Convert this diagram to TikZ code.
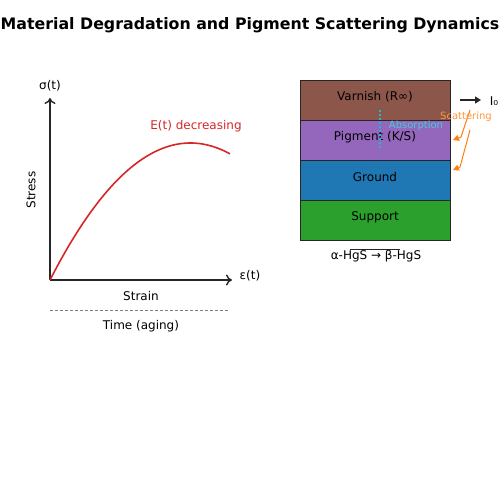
\documentclass[tikz,border=0pt]{standalone}
\usepackage{fontspec}
\setmainfont{DejaVu Sans}
\usetikzlibrary{arrows.meta}
\definecolor{tabbrown}{HTML}{8C564B}
\definecolor{tabpurple}{HTML}{9467BD}
\definecolor{tabblue}{HTML}{1F77B4}
\definecolor{tabgreen}{HTML}{2CA02C}
\definecolor{tabred}{HTML}{D62728}
\definecolor{taborange}{HTML}{FF7F0E}
\definecolor{tabcyan}{HTML}{17BECF}
\begin{document}
\begin{tikzpicture}[
        x=1pt, y=-1pt,
        label/.style={font=\fontsize{12}{14}\selectfont, inner sep=0pt},
        small/.style={font=\fontsize{10}{12}\selectfont, inner sep=0pt},
        layer/.style={draw=black!85, line width=0.9pt, minimum width=150pt, minimum height=40pt, anchor=north west, inner sep=0pt},
        axis/.style={-{To[length=6pt,width=11pt]}, line width=1.4pt, black!85},
        scat/.style={-{Triangle[length=6pt,width=6pt]}, taborange, line width=1pt}
    ]
        \useasboundingbox (0,0) rectangle (500,500);
        \fill[white] (0,0) rectangle (500,500);

        % Title
        \node[font=\fontsize{15.8}{19}\selectfont\bfseries, inner sep=0pt] (title) at (250,25) {Material Degradation and Pigment Scattering Dynamics};

        % Stress-strain axes
        \coordinate (origin) at (50,280);
        \coordinate (ytop) at (50,98);
        \coordinate (xend) at (232,280);
        \draw[axis] (origin) -- (ytop);
        \draw[axis] (origin) -- (xend);
        \node[label] (sigma) at (50,86) {σ(t)};
        \node[label] (eps) at (250,276) {ε(t)};
        \node[label, rotate=90] (stress) at (31,190) {Stress};
        \node[label] (strain) at (141,296) {Strain};

        % Aging time line
        \coordinate (tstart) at (50,310);
        \coordinate (tend) at (228,310);
        \draw[gray, line width=1pt, dash pattern=on 3pt off 2pt] (tstart) -- (tend);
        \node[label] (time) at (141,326) {Time (aging)};

        % Modulus curve
        \draw[tabred, line width=1.6pt] plot[domain=0:1, samples=60] ({50+180*\x}, {280-137*\x*(1.56-\x)/0.6084});
        \node[label, text=tabred] (modulus) at (196,126) {E(t) decreasing};

        % Paint layers
        \node[layer, fill=tabbrown] (varnish) at (300,80) {};
        \node[layer, fill=tabpurple] (pigment) at (300,120) {};
        \node[layer, fill=tabblue] (ground) at (300,160) {};
        \node[layer, fill=tabgreen] (support) at (300,200) {};
        \node[label] at (375,97) {Varnish (R∞)};
        \node[label] at (375,137) {Pigment (K/S)};
        \node[label] at (375,177) {Ground};
        \node[label] at (375,217) {Support};

        % Phase transition
        \node[label] (phase) at (376,256) {α-HgS → β-HgS};
        \draw[black!85, line width=0.8pt] (350,249) -- (400,249);

        % Incident light
        \coordinate (lin) at (460,100);
        \coordinate (lout) at (481,100);
        \draw[-{Triangle[length=6pt,width=7pt]}, line width=1.4pt, black!85] (lin) -- (lout);
        \node[label] (intensity) at (494,101) {I₀};

        % Absorption
        \coordinate (abstop) at (380,110);
        \coordinate (absbot) at (380,150);
        \draw[tabcyan, line width=1.4pt, dash pattern=on 2pt off 2pt] (abstop) -- (absbot);
        \node[small, text=tabcyan!80] (absorption) at (416,126) {Absorption};

        % Scattering
        \coordinate (s1) at (470,110);
        \coordinate (s1b) at (461,137);
        \coordinate (s1e) at (453,140);
        \coordinate (s2) at (470,130);
        \coordinate (s2b) at (460,167);
        \coordinate (s2e) at (453,170);
        \draw[scat] (s1) -- (s1b) -- (s1e);
        \draw[scat] (s2) -- (s2b) -- (s2e);
        \node[small, text=taborange!80] (scattering) at (466,117) {Scattering};
    \end{tikzpicture}
\end{document}
